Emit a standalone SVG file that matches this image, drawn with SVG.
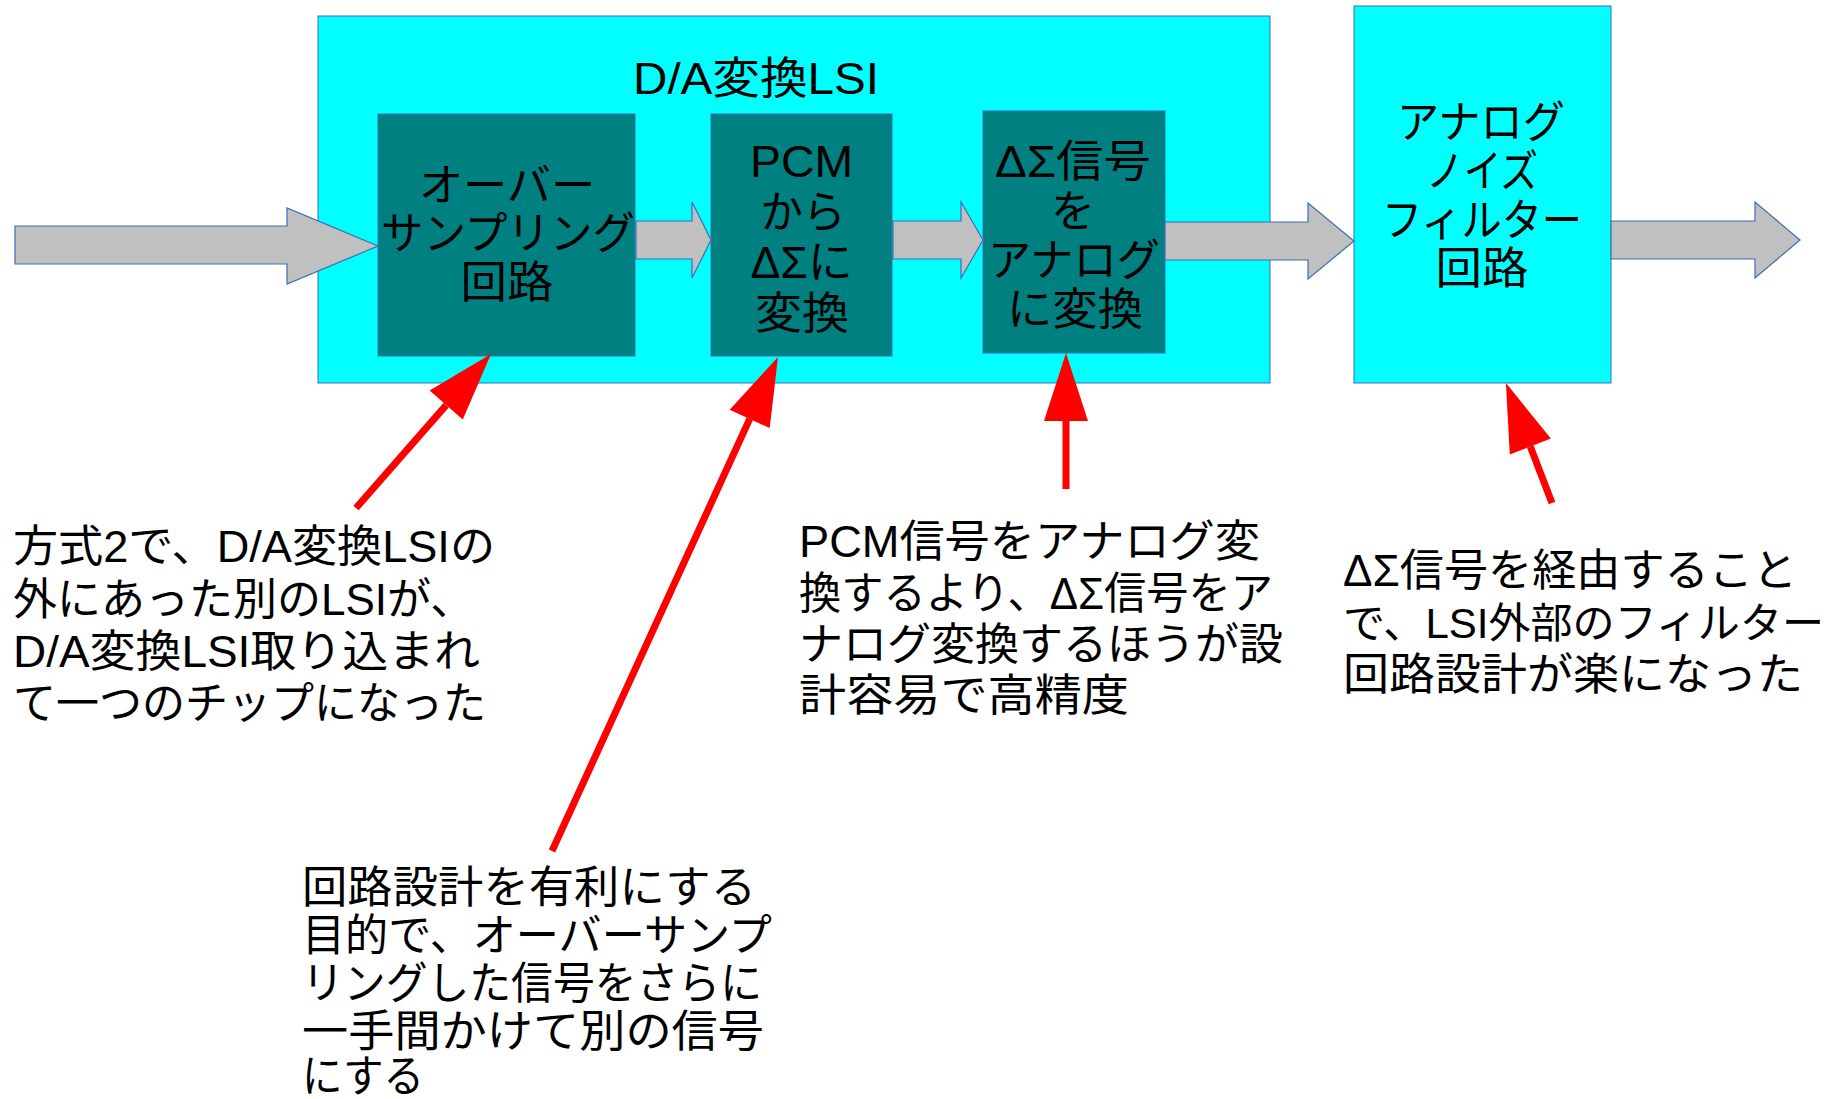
<svg xmlns="http://www.w3.org/2000/svg" width="1840" height="1099" viewBox="0 0 1840 1099">
<defs>
<style>
text{font-family:'Liberation Sans','Noto Sans CJK JP',sans-serif;font-size:44px;fill:#000}
.c{text-anchor:middle}
.cyan{fill:#00ffff;stroke:#3d6fb0;stroke-width:1}
.teal{fill:#008080;stroke:#3d6fb0;stroke-width:1}
.blk{fill:#c0c0c0;stroke:#3d6fb0;stroke-width:1.2}
.red{stroke:#ff0000;stroke-width:7;fill:none;marker-end:url(#ah)}
</style>
<marker id="ah" markerUnits="userSpaceOnUse" markerWidth="68" markerHeight="44" viewBox="0 0 68 44" refX="0" refY="22" orient="auto" overflow="visible">
<path d="M0,0 L68,22 L0,44 Z" fill="#ff0000"/>
</marker>
</defs>
<rect width="1840" height="1099" fill="#ffffff"/>

<g id="lsi">
<rect class="cyan" x="318" y="16" width="952" height="367"/>
<text class="c" x="756" y="94" textLength="246" lengthAdjust="spacingAndGlyphs">D/A変換LSI</text>
</g>

<g id="oversampling">
<rect class="teal" x="378" y="114" width="257" height="242"/>
<text class="c" x="507" y="201" textLength="176" lengthAdjust="spacingAndGlyphs">オーバー</text>
<text class="c" x="508" y="249" textLength="254" lengthAdjust="spacingAndGlyphs">サンプリング</text>
<text class="c" x="507" y="298" textLength="93" lengthAdjust="spacingAndGlyphs">回路</text>
</g>

<g id="pcm2ds">
<rect class="teal" x="711" y="114" width="181" height="242"/>
<text class="c" x="801.5" y="177" textLength="103" lengthAdjust="spacingAndGlyphs">PCM</text>
<text class="c" x="803" y="228" textLength="85" lengthAdjust="spacingAndGlyphs">から</text>
<text class="c" x="801.5" y="278" textLength="102" lengthAdjust="spacingAndGlyphs">ΔΣに</text>
<text class="c" x="802" y="329" textLength="94" lengthAdjust="spacingAndGlyphs">変換</text>
</g>

<g id="ds2analog">
<rect class="teal" x="983" y="111" width="182" height="242"/>
<text class="c" x="1073" y="177" textLength="156" lengthAdjust="spacingAndGlyphs">ΔΣ信号</text>
<text class="c" x="1073" y="227">を</text>
<text class="c" x="1074" y="276" textLength="172" lengthAdjust="spacingAndGlyphs">アナログ</text>
<text class="c" x="1075" y="325" textLength="136" lengthAdjust="spacingAndGlyphs">に変換</text>
</g>

<g id="filter">
<rect class="cyan" x="1354" y="6" width="257" height="377"/>
<text class="c" x="1481" y="138" textLength="168" lengthAdjust="spacingAndGlyphs">アナログ</text>
<text class="c" x="1482" y="187" textLength="112" lengthAdjust="spacingAndGlyphs">ノイズ</text>
<text class="c" x="1482" y="236" textLength="200" lengthAdjust="spacingAndGlyphs">フィルター</text>
<text class="c" x="1482" y="284" textLength="93" lengthAdjust="spacingAndGlyphs">回路</text>
</g>

<g id="note1">
<text x="13" y="562" textLength="482" lengthAdjust="spacingAndGlyphs">方式2で、D/A変換LSIの</text>
<text x="13" y="615">外にあった別のLSIが、</text>
<text x="13" y="667" textLength="467" lengthAdjust="spacingAndGlyphs">D/A変換LSI取り込まれ</text>
<text x="13" y="719" textLength="473" lengthAdjust="spacingAndGlyphs">て一つのチップになった</text>
</g>

<g id="note2">
<text x="302" y="903" textLength="454" lengthAdjust="spacingAndGlyphs">回路設計を有利にする</text>
<text x="302" y="951" textLength="470" lengthAdjust="spacingAndGlyphs">目的で、オーバーサンプ</text>
<text x="302" y="999" textLength="460" lengthAdjust="spacingAndGlyphs">リングした信号をさらに</text>
<text x="302" y="1047" textLength="462" lengthAdjust="spacingAndGlyphs">一手間かけて別の信号</text>
<text x="302" y="1092" textLength="122" lengthAdjust="spacingAndGlyphs">にする</text>
</g>

<g id="note3">
<text x="799" y="557" textLength="461" lengthAdjust="spacingAndGlyphs">PCM信号をアナログ変</text>
<text x="799" y="609" textLength="474" lengthAdjust="spacingAndGlyphs">換するより、ΔΣ信号をア</text>
<text x="799" y="660" textLength="484" lengthAdjust="spacingAndGlyphs">ナログ変換するほうが設</text>
<text x="799" y="711" textLength="330" lengthAdjust="spacingAndGlyphs">計容易で高精度</text>
</g>

<g id="note4">
<text x="1343" y="586" textLength="454" lengthAdjust="spacingAndGlyphs">ΔΣ信号を経由すること</text>
<text x="1343" y="638" style="font-size:42px" textLength="481" lengthAdjust="spacingAndGlyphs">で、LSI外部のフィルター</text>
<text x="1343" y="690" textLength="460" lengthAdjust="spacingAndGlyphs">回路設計が楽になった</text>
</g>

<g id="connectors">
<polygon class="blk" points="15,226 287,226 287,208 378,246 287,284 287,264 15,264"/>
<polygon class="blk" points="636,221 692,221 692,202 711,240 692,278 692,259 636,259"/>
<polygon class="blk" points="893,221 961,221 961,202 983,240 961,278 961,259 893,259"/>
<polygon class="blk" points="1165,222 1308,222 1308,203 1354,241 1308,279 1308,260 1165,260"/>
<polygon class="blk" points="1611,221 1755,221 1755,202 1800,240 1755,278 1755,259 1611,259"/>
<line class="red" x1="356" y1="508" x2="446.2" y2="405.1"/>
<line class="red" x1="552" y1="851" x2="749.7" y2="418.9"/>
<line class="red" x1="1066" y1="489" x2="1066" y2="421"/>
<line class="red" x1="1552" y1="503" x2="1530.3" y2="446.5"/>
</g>
</svg>
